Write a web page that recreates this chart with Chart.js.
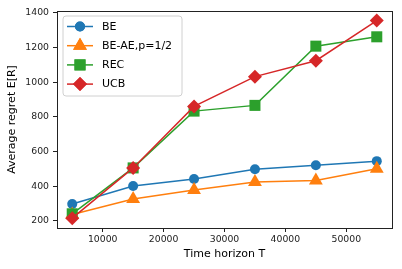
<!DOCTYPE html>
<html>
<head>
<meta charset="utf-8">
<script src="https://cdn.jsdelivr.net/npm/chart.js@4/dist/chart.umd.min.js"></script>
<style>
  html, body { margin: 0; padding: 0; background: #fff; }
  #wrap { width: 402px; height: 269px; }
</style>
</head>
<body>
<div id="wrap"><canvas id="chart" width="402" height="269"></canvas></div>
<script>
// data
const horizons = [5000, 15000, 25000, 35000, 45000, 55000];
const beRegret = [297, 400, 441, 497, 520, 544];
const beAeRegret = [236, 326, 378, 423, 432, 500];
const recRegret = [240, 505, 833, 866, 1208, 1262];
const ucbRegret = [215, 505, 860, 1032, 1124, 1356];
const xTicks = [10000, 20000, 30000, 40000, 50000];
const yTicks = [200, 400, 600, 800, 1000, 1200, 1400];

const FONT = "'DejaVu Sans', sans-serif";

const pts = (ys) => horizons.map((x, i) => ({ x: x, y: ys[i] }));

const series = [
    { label: "BE", data: beRegret, color: "#1f77b4", style: "circle", r: 5, order: 3 },
    { label: "BE-AE,p=1/2", data: beAeRegret, color: "#ff7f0e", style: "triangle", r: 8, order: 2 },
    { label: "REC", data: recRegret, color: "#2ca02c", style: "rect", r: 7.8, order: 1 },
    { label: "UCB", data: ucbRegret, color: "#d62728", style: "rectRot", r: 7, order: 0 }
];

// matplotlib style frame round the plot area
const framePlugin = {
    id: "frame",
    afterDraw(chart) {
        const a = chart.chartArea;
        const ctx = chart.ctx;
        ctx.save();
        ctx.strokeStyle = "#222";
        ctx.lineWidth = 1;
        ctx.strokeRect(Math.round(a.left) + 0.5, Math.round(a.top) + 0.5,
            Math.round(a.right - a.left), Math.round(a.bottom - a.top));
        ctx.restore();
    }
};

// legend sitting inside the axes, upper left
const insideLegend = {
    id: "insideLegend",
    afterDraw(chart) {
        const ctx = chart.ctx;
        const bx = 63, by = 16, bw = 119, bh = 80, rad = 3;
        ctx.save();
        ctx.beginPath();
        ctx.moveTo(bx + rad, by);
        ctx.arcTo(bx + bw, by, bx + bw, by + bh, rad);
        ctx.arcTo(bx + bw, by + bh, bx, by + bh, rad);
        ctx.arcTo(bx, by + bh, bx, by, rad);
        ctx.arcTo(bx, by, bx + bw, by, rad);
        ctx.closePath();
        ctx.fillStyle = "rgba(255,255,255,0.8)";
        ctx.fill();
        ctx.strokeStyle = "#d0d0d0";
        ctx.lineWidth = 1;
        ctx.stroke();

        ctx.font = "11px " + FONT;
        ctx.textBaseline = "middle";
        ctx.textAlign = "left";
        series.forEach((s, i) => {
            const y = 26.5 + i * 19.2;
            ctx.strokeStyle = s.color;
            ctx.lineWidth = 1.5;
            ctx.beginPath();
            ctx.moveTo(67, y);
            ctx.lineTo(93, y);
            ctx.stroke();
            ctx.fillStyle = s.color;
            Chart.helpers.drawPoint(ctx, { pointStyle: s.style, radius: s.r, borderWidth: 0, rotation: 0 }, 80, y);
            ctx.fill();
            ctx.fillStyle = "#000";
            ctx.fillText(s.label, 102, y + 0.5);
        });
        ctx.restore();
    }
};

new Chart(document.getElementById("chart"), {
    type: "line",
    data: {
        datasets: series.map(s => ({
            label: s.label,
            data: pts(s.data),
            borderColor: s.color,
            backgroundColor: s.color,
            borderWidth: 1.5,
            pointStyle: s.style,
            pointRadius: s.r,
            pointHoverRadius: s.r,
            pointBorderWidth: 0,
            pointBackgroundColor: s.color,
            tension: 0,
            fill: false,
            order: s.order,
            clip: false
        }))
    },
    options: {
        responsive: false,
        animation: false,
        layout: { padding: { top: 11, right: 10, left: 0, bottom: 0 } },
        plugins: {
            legend: { display: false },
            tooltip: { enabled: false }
        },
        scales: {
            x: {
                type: "linear",
                min: 2500,
                max: 57500,
                afterBuildTicks(scale) { scale.ticks = xTicks.map(v => ({ value: v })); },
                afterFit(scale) { scale.height = 41; },
                grid: { drawOnChartArea: false, drawTicks: true, tickLength: 4, color: "#222" },
                border: { display: false },
                ticks: { color: "#222", font: { family: FONT, size: 9.3 }, padding: 2, maxRotation: 0, callback: v => String(v) },
                title: { display: true, text: "Time horizon T", color: "#000", font: { family: FONT, size: 11 }, padding: { top: 0, bottom: 8 } }
            },
            y: {
                type: "linear",
                min: 158,
                max: 1411,
                afterBuildTicks(scale) { scale.ticks = yTicks.map(v => ({ value: v })); },
                afterFit(scale) { scale.width = 57; },
                grid: { drawOnChartArea: false, drawTicks: true, tickLength: 4, color: "#222" },
                border: { display: false },
                ticks: { color: "#222", font: { family: FONT, size: 9.3 }, padding: 4, callback: v => String(v) },
                title: { display: true, text: "Average regret E[R]", color: "#000", font: { family: FONT, size: 11 }, padding: { top: 6, bottom: 0 } }
            }
        }
    },
    plugins: [framePlugin, insideLegend]
});
</script>
</body>
</html>
